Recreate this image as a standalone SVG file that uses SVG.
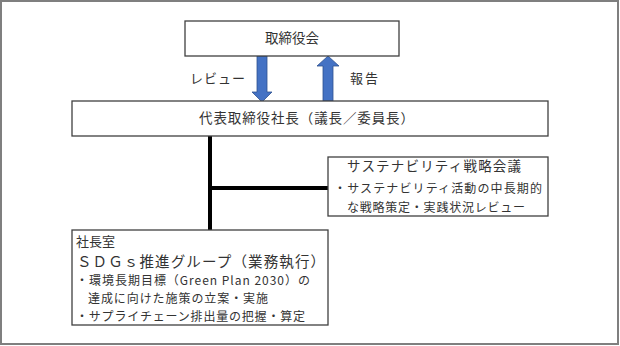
<svg xmlns="http://www.w3.org/2000/svg" width="620" height="346" viewBox="0 0 620 346">
<style>
.box{fill:#fff;stroke:#404040;stroke-width:1.3}
.t{font-family:"Noto Sans CJK JP","Noto Sans",sans-serif;fill:#333;}
.arrow{fill:#4472C4;stroke:#2F528F;stroke-width:0.8}
.conn{stroke:#000;stroke-width:4;fill:none}
</style>
<rect x="1" y="1" width="617" height="343" fill="#fff" stroke="#7f7f7f" stroke-width="2"/>
<g id="connectors">
<line class="conn" x1="210" y1="136" x2="210" y2="230"/>
<line class="conn" x1="210" y1="188" x2="328" y2="188"/>
<polygon id="arrow-review" class="arrow" points="257,56 267,56 267,92 272,92 262,102 252,92 257,92"/>
<polygon id="arrow-report" class="arrow" points="323,101 333,101 333,66 339,66 328,56 317,66 323,66"/>
<text class="t" x="190" y="83" font-size="13" textLength="55">レビュー</text>
<text class="t" x="350" y="83" font-size="13" textLength="28">報告</text>
</g>
<g id="board">
<rect class="box" x="185" y="21" width="214" height="35"/>
<text class="t" x="292" y="43" font-size="13.5" text-anchor="middle">取締役会</text>
</g>
<g id="president">
<rect class="box" x="72" y="101" width="476" height="35"/>
<text class="t" x="199" y="123" font-size="13.5" textLength="215">代表取締役社長（議長／委員長）</text>
</g>
<g id="strategy">
<rect class="box" x="328" y="157" width="220" height="59"/>
<text class="t" x="347" y="171" font-size="13.5" textLength="174">サステナビリティ戦略会議</text>
<text class="t" x="334" y="193" font-size="12" textLength="208">・サステナビリティ活動の中長期的</text>
<text class="t" x="347" y="212" font-size="12" textLength="178">な戦略策定・実践状況レビュー</text>
</g>
<g id="office">
<rect class="box" x="72" y="230" width="256" height="95"/>
<text class="t" x="76" y="246" font-size="13">社長室</text>
<text class="t" x="77" y="267" font-size="14.5" textLength="248">ＳＤＧｓ推進グループ（業務執行）</text>
<text class="t" x="76" y="285" font-size="12" textLength="234">・環境長期目標（Green Plan 2030）の</text>
<text class="t" x="88" y="303" font-size="12" textLength="180">達成に向けた施策の立案・実施</text>
<text class="t" x="76" y="321" font-size="12" textLength="229">・サプライチェーン排出量の把握・算定</text>
</g>
</svg>
